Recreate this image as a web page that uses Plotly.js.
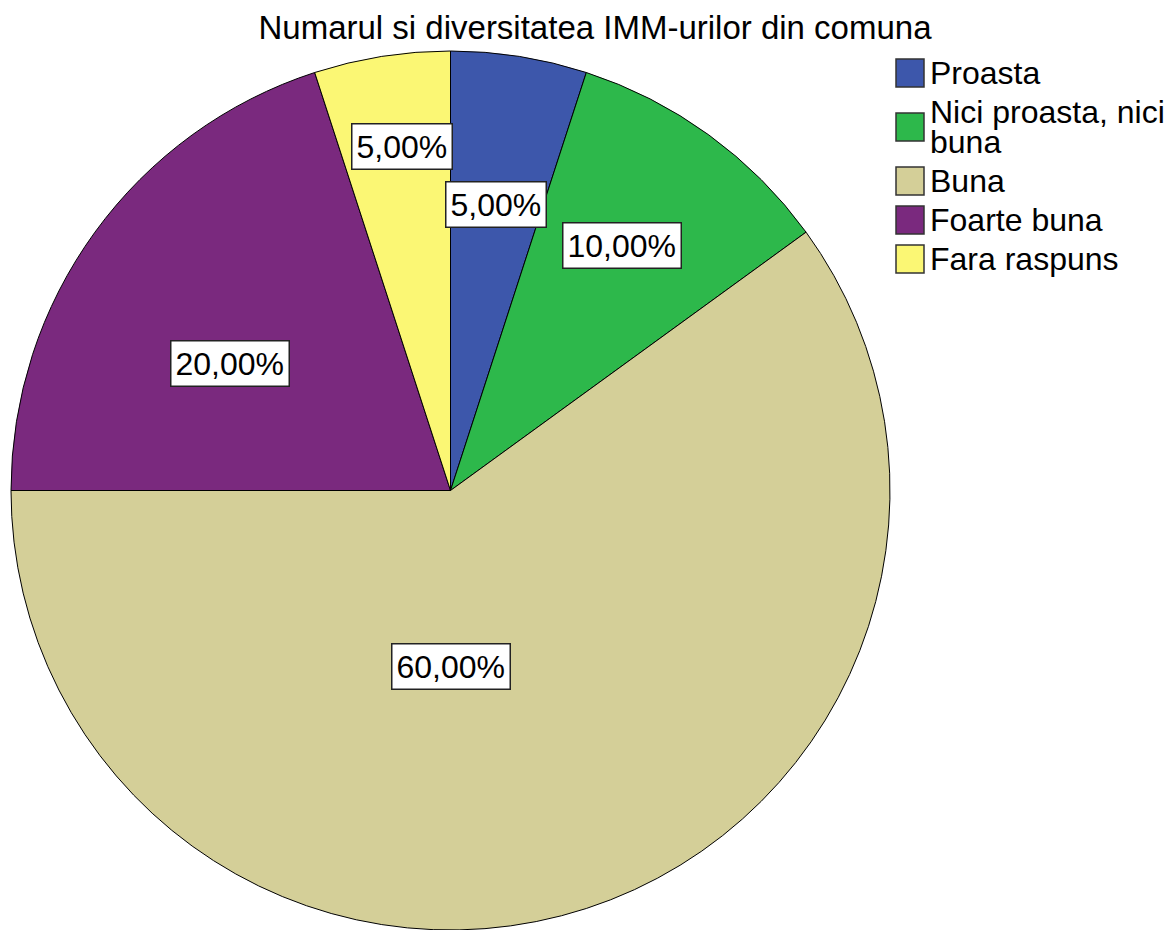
<!DOCTYPE html>
<html>
<head>
<meta charset="utf-8">
<script src="https://cdn.plot.ly/plotly-3.0.1.min.js"></script>
<style>
  body { margin: 0; background: #fff; }
  #chart { width: 1175px; height: 930px; }
</style>
</head>
<body>
<div id="chart"></div>
<script>
const categories = ['Proasta', 'Nici proasta, nici<br>buna', 'Buna', 'Foarte buna', 'Fara raspuns'];
const percents = [5, 10, 60, 20, 5];
const sliceColors = ['#3d57ab', '#2db84b', '#d4cf98', '#7a297e', '#fbf774'];

// where SPSS put the boxed labels: fraction of radius + angle shift from slice middle
const labelRadius = [0.66, 0.68, 0.40, 0.58, 0.79];
const labelShift = [0, -1, 18, -6, 1];

const W = 1175, H = 930;
const margin = { l: 11, r: 0, t: 51, b: 0 };
const plotW = W - margin.l - margin.r;
const plotH = H - margin.t - margin.b;
const R = plotH / 2;
const cx = margin.l + R;
const cy = margin.t + R;
const FONT = 'Liberation Sans, Arial, sans-serif';

function px2x(px) { return (px - margin.l) / plotW; }
function py2y(py) { return 1 - (py - margin.t) / plotH; }

function fmt(v) {
  return v.toFixed(2).replace('.', ',') + '%';
}

const pieTrace = {
  type: 'pie',
  labels: categories,
  values: percents,
  sort: false,
  direction: 'clockwise',
  rotation: 0,
  textinfo: 'none',
  hoverinfo: 'label+percent',
  marker: { colors: sliceColors, line: { color: '#000', width: 1 } },
  domain: { x: [0, (2 * R) / plotW], y: [0, 1] },
  showlegend: false
};

// boxed percent labels
const total = percents.reduce((a, b) => a + b, 0);
const annotations = [];
let cum = 0;
percents.forEach((v, i) => {
  const mid = (cum + v / 2) / total * 360 + labelShift[i];
  cum += v;
  const a = mid * Math.PI / 180;
  const r = R * labelRadius[i];
  annotations.push({
    x: px2x(cx + r * Math.sin(a)),
    y: py2y(cy - r * Math.cos(a)),
    xref: 'paper', yref: 'paper',
    xanchor: 'center', yanchor: 'middle',
    text: fmt(v / total * 100),
    showarrow: false,
    font: { family: FONT, size: 32, color: '#000' },
    bgcolor: '#fff',
    bordercolor: '#222',
    borderwidth: 1.5,
    borderpad: 4
  });
});

// legend drawn by hand so the swatches can be big like the original
const shapes = [];
const sw = 28, legX = 896, rowStep = 39, lineStep = 30;
let lineY = 73;
categories.forEach((lab, i) => {
  const lines = lab.split('<br>');
  const firstY = lineY;
  lines.forEach((ln, k) => {
    annotations.push({
      x: px2x(legX + sw + 4), y: py2y(lineY),
      xref: 'paper', yref: 'paper',
      xanchor: 'left', yanchor: 'middle',
      text: ln, showarrow: false,
      font: { family: FONT, size: 32, color: '#000' }
    });
    if (k < lines.length - 1) lineY += lineStep;
  });
  const sy = (firstY + lineY) / 2;
  shapes.push({
    type: 'rect', xref: 'paper', yref: 'paper',
    x0: px2x(legX), x1: px2x(legX + sw),
    y0: py2y(sy - sw / 2), y1: py2y(sy + sw / 2),
    fillcolor: sliceColors[i],
    line: { color: '#333', width: 1.5 }
  });
  lineY += rowStep;
});

const layout = {
  width: W,
  height: H,
  margin: margin,
  paper_bgcolor: '#fff',
  plot_bgcolor: '#fff',
  title: {
    text: 'Numarul si diversitatea IMM-urilor din comuna',
    font: { family: FONT, size: 33, color: '#000' },
    x: 595 / W, xref: 'container', xanchor: 'center',
    y: 1 - 27 / H, yref: 'container', yanchor: 'middle'
  },
  showlegend: false,
  annotations: annotations,
  shapes: shapes
};

Plotly.newPlot('chart', [pieTrace], layout, { displayModeBar: false });
</script>
</body>
</html>
